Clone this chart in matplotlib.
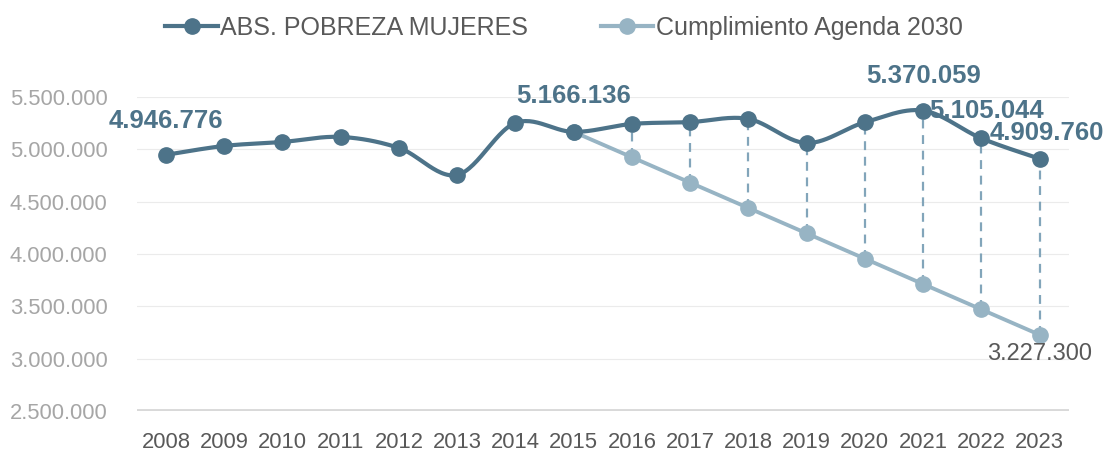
import numpy as np
import matplotlib.pyplot as plt
from matplotlib.ticker import FuncFormatter
from matplotlib.lines import Line2D

plt.rcParams['font.family'] = ['Liberation Sans', 'DejaVu Sans']

years = [2008, 2009, 2010, 2011, 2012, 2013, 2014, 2015,
         2016, 2017, 2018, 2019, 2020, 2021, 2022, 2023]
pobreza = [4946776, 5032000, 5070000, 5118000, 5013000, 4755000, 5252000, 5166136,
           5242000, 5260000, 5290000, 5060000, 5258000, 5370059, 5105044, 4909760]
agenda_years = [2015, 2016, 2017, 2018, 2019, 2020, 2021, 2022, 2023]
agenda = [5166136, 4923782, 4681427, 4439073, 4196718, 3954364, 3712009, 3469655, 3227300]
labelled = {2008: 4946776, 2015: 5166136, 2021: 5370059, 2022: 5105044, 2023: 4909760}

DARK, LIGHT, DASH = "#4d7389", "#97b4c4", "#82a5ba"
GRID, AXIS, TICK_Y, TICK_X = "#ebebeb", "#d9d9d9", "#a6a6a6", "#595959"

x = np.arange(len(years))
xa = np.array([years.index(y) for y in agenda_years])
pob = np.array(pobreza, dtype=float)


def smooth(xs, ys, n=30):
    # Catmull-Rom style bezier like Excel's smoothed line
    px = np.concatenate([[xs[0]], xs, [xs[-1]]])
    py = np.concatenate([[ys[0]], ys, [ys[-1]]])
    ox, oy = [], []
    t = np.linspace(0, 1, n)
    for i in range(1, len(px) - 2):
        p0 = np.array([px[i], py[i]]); p3 = np.array([px[i + 1], py[i + 1]])
        c1 = p0 + (np.array([px[i + 1], py[i + 1]]) - np.array([px[i - 1], py[i - 1]])) / 6
        c2 = p3 - (np.array([px[i + 2], py[i + 2]]) - np.array([px[i], py[i]])) / 6
        b = ((1 - t) ** 3)[:, None] * p0 + (3 * (1 - t) ** 2 * t)[:, None] * c1 \
            + (3 * (1 - t) * t ** 2)[:, None] * c2 + (t ** 3)[:, None] * p3
        ox.append(b[:, 0]); oy.append(b[:, 1])
    return np.concatenate(ox), np.concatenate(oy)


fig = plt.figure(figsize=(11.04, 4.51), dpi=100)
ax = fig.add_axes([0.124, 0.089, 0.844, 0.696])
ax.set_xlim(-0.5, len(years) - 0.5)
ax.set_ylim(2500000, 5500000)

for v in range(3000000, 5500001, 500000):
    ax.axhline(v, color=GRID, lw=0.8, zorder=0)
ax.axhline(2500000, color=AXIS, lw=3.5, zorder=1)

# dashed gaps between actual values and the 2030 path
for xi, ag in zip(xa[1:], agenda[1:]):
    ax.plot([xi, xi], [ag, pob[xi]], color=DASH, lw=1.6, ls=(0, (4, 3)), zorder=2)

ax.plot(xa, agenda, color=LIGHT, lw=2.8, zorder=3)
ax.plot(xa, agenda, "o", color=LIGHT, ms=11, zorder=4)

sx, sy = smooth(x.astype(float), pob)
ax.plot(sx, sy, color=DARK, lw=3, zorder=5)
ax.plot(x, pob, "o", color=DARK, ms=11, zorder=6)

offsets = {2008: (0, 24.5), 2015: (0, 26), 2021: (0, 25), 2022: (4, 19.5), 2023: (5, 18.5)}
for yr, val in labelled.items():
    i = years.index(yr)
    dx, dy = offsets[yr]
    ax.annotate(f"{val:,}".replace(",", "."), (i, val), xytext=(dx, dy),
                textcoords="offset points", ha="center", va="center",
                fontsize=18.5, fontweight="bold", color=DARK, zorder=8, annotation_clip=False)
ax.annotate(f"{agenda[-1]:,}".replace(",", "."), (xa[-1], agenda[-1]), xytext=(0, -14),
            textcoords="offset points", ha="center", va="center",
            fontsize=17, color=TICK_X, zorder=8, annotation_clip=False)

ax.set_xticks(x)
ax.set_xticklabels([str(y) for y in years])
ax.set_yticks(range(2500000, 5500001, 500000))
ax.yaxis.set_major_formatter(FuncFormatter(lambda v, p: f"{int(v):,}".replace(",", ".")))
ax.tick_params(axis="x", length=0, labelsize=15.8, labelcolor=TICK_X, pad=15)
ax.tick_params(axis="y", length=0, labelsize=15.8, labelcolor=TICK_Y, pad=21)
for s in ax.spines.values():
    s.set_visible(False)

handles = [Line2D([], [], color=DARK, lw=3, marker="o", ms=11),
           Line2D([], [], color=LIGHT, lw=3, marker="o", ms=11)]
fig.legend(handles, ["ABS. POBREZA MUJERES", "Cumplimiento Agenda 2030"],
           loc="upper center", bbox_to_anchor=(0.511, 1.015), ncol=2, frameon=False,
           fontsize=18, labelcolor=TICK_X, handlelength=2.1, handletextpad=0.1,
           columnspacing=2.9)

fig.savefig("out.png", dpi=100, facecolor="white")
